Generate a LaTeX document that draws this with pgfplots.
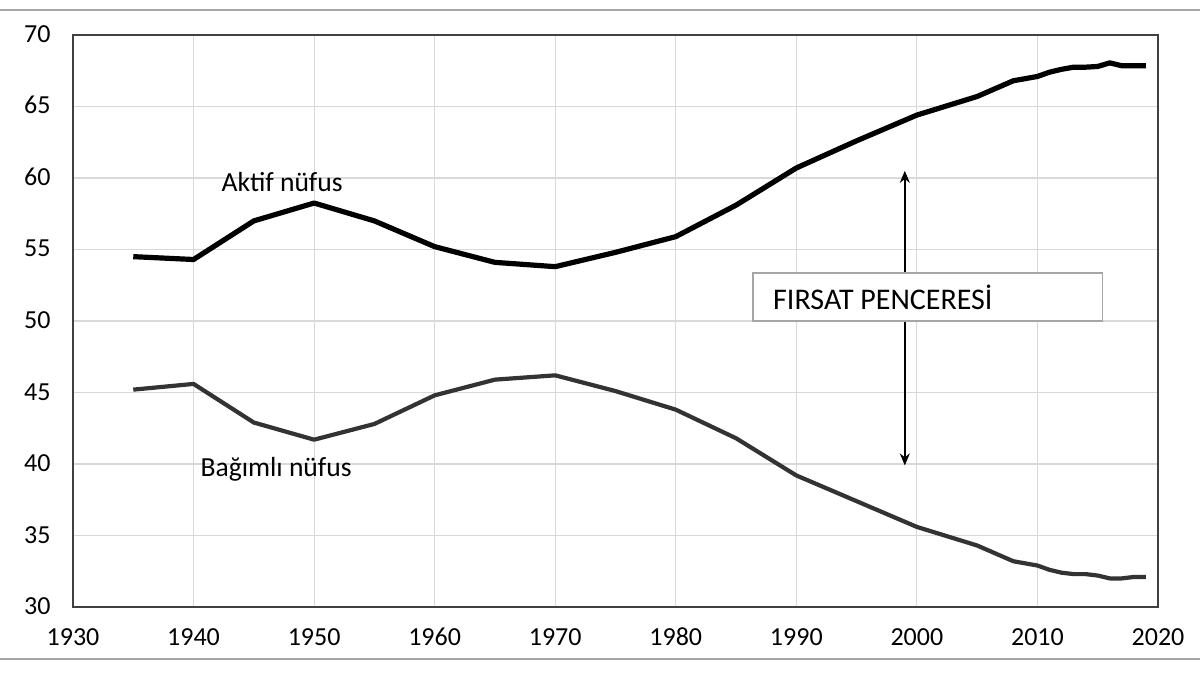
\documentclass[border=0pt]{standalone}
\usepackage{pgfplots}
\pgfplotsset{compat=1.18}
\usepackage{fontspec}
\setmainfont{Carlito}
\usetikzlibrary{arrows.meta}
\pgfplotstableread{
year val
1935 54.5
1940 54.3
1945 57.0
1950 58.25
1955 57.0
1960 55.2
1965 54.1
1970 53.8
1975 54.8
1980 55.9
1985 58.1
1990 60.7
1995 62.6
2000 64.4
2005 65.7
2008 66.8
2010 67.1
2011 67.4
2012 67.6
2013 67.75
2014 67.75
2015 67.8
2016 68.05
2017 67.85
2018 67.85
2019 67.85
}\aktif
\pgfplotstableread{
year val
1935 45.2
1940 45.6
1945 42.9
1950 41.7
1955 42.8
1960 44.8
1965 45.9
1970 46.2
1975 45.1
1980 43.8
1985 41.8
1990 39.2
1995 37.4
2000 35.6
2005 34.3
2008 33.2
2010 32.9
2011 32.6
2012 32.4
2013 32.3
2014 32.3
2015 32.2
2016 32.0
2017 32.0
2018 32.1
2019 32.1
}\bagimli
\begin{document}
\begin{tikzpicture}
\useasboundingbox (-36.5pt,-34pt) rectangle (563.5pt,303.5pt);
\draw[gray!70, line width=1pt] (-36.5pt,298.5pt) -- (563.5pt,298.5pt);
\draw[gray!70, line width=1pt] (-36.5pt,-26pt) -- (563.5pt,-26pt);
\begin{axis}[
  at={(0,0)}, anchor=south west,
  scale only axis, width=542.5pt, height=286pt,
  xmin=1930, xmax=2020, ymin=30, ymax=70,
  xtick={1930,1940,...,2020}, ytick={30,35,...,70},
  xticklabel style={/pgf/number format/1000 sep={}},
  /pgf/number format/assume math mode=true,
  tick style={draw=none},
  grid=major,
  major grid style={draw=black!15, line width=0.6pt},
  axis line style={draw=black!75, line width=0.8pt},
  tick label style={font=\fontsize{13}{15}\selectfont, text=black},
  xticklabel style={anchor=north, text height=8.5pt, text depth=0pt, inner sep=0pt, yshift=-10.5pt},
  yticklabel style={anchor=east, text height=8.5pt, text depth=0pt, inner sep=0pt, xshift=-11pt, yshift=0.5pt},
  clip=false,
]
\addplot[black!80, line width=2.1pt, line join=round] table[x=year,y=val] {\bagimli};
\addplot[black, line width=2.6pt, line join=round] table[x=year,y=val] {\aktif};
\draw[black, line width=0.8pt, {Stealth[length=6pt,width=5pt]}-{Stealth[length=6pt,width=5pt]}] (axis cs:1999,60.5) -- (axis cs:1999,39.9);
\draw[black!35, fill=white, line width=0.6pt] (axis cs:1986.4,50.0) rectangle (axis cs:2015.4,53.35);
\node[anchor=west, inner sep=0pt, font=\fontsize{15}{17}\selectfont, text=black] at (axis cs:1988.05,51.65) {FIRSAT PENCERESİ};
\node[font=\fontsize{13.8}{16}\selectfont, text=black] at (axis cs:1947.35,59.75) {Aktif nüfus};
\node[font=\fontsize{13.8}{16}\selectfont, text=black] at (axis cs:1946.85,39.6) {Bağımlı nüfus};
\end{axis}
\end{tikzpicture}
\end{document}
